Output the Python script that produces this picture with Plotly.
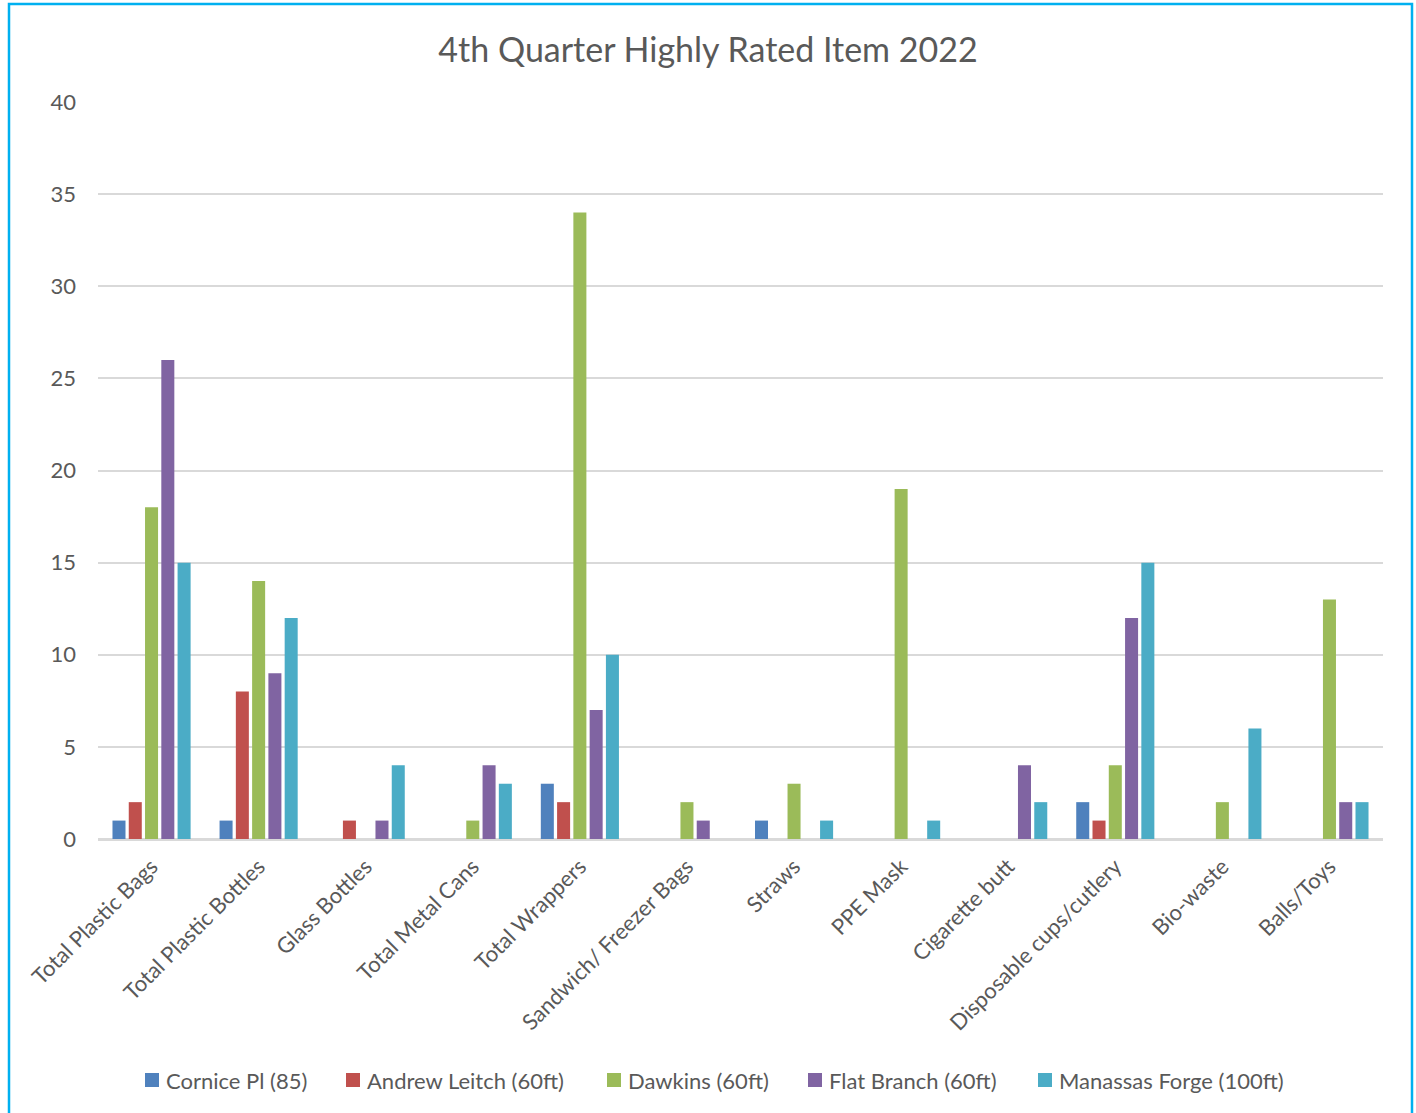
import plotly.graph_objects as go

categories = ["Total Plastic Bags", "Total Plastic Bottles", "Glass Bottles", "Total Metal Cans",
              "Total Wrappers", "Sandwich/ Freezer Bags", "Straws", "PPE Mask", "Cigarette butt",
              "Disposable cups/cutlery", "Bio-waste", "Balls/Toys"]

cornice = [1, 1, 0, 0, 3, 0, 1, 0, 0, 2, 0, 0]
andrew = [2, 8, 1, 0, 2, 0, 0, 0, 0, 1, 0, 0]
dawkins = [18, 14, 0, 1, 34, 2, 3, 19, 0, 4, 2, 13]
flat_branch = [26, 9, 1, 4, 7, 1, 0, 0, 4, 12, 0, 2]
manassas = [15, 12, 4, 3, 10, 0, 1, 1, 2, 15, 6, 2]

series_names = ["Cornice Pl (85)", "Andrew Leitch (60ft)", "Dawkins (60ft)",
                "Flat Branch (60ft)", "Manassas Forge (100ft)"]
series_values = [cornice, andrew, dawkins, flat_branch, manassas]
colors = ["#4F81BD", "#C0504D", "#9BBB59", "#8064A2", "#4BACC6"]

# legend layout (pixel positions of the symbol's left edge)
legend_symbol_x = [145, 346, 607, 808, 1038]

FONT = "Lato, Carlito, Calibri, sans-serif"
TXT = "#595959"

fig = go.Figure()
for name, vals, col in zip(series_names, series_values, colors):
    fig.add_trace(go.Bar(x=categories, y=vals, name=name, showlegend=False,
                         marker=dict(color=col, line=dict(width=0))))

W, H = 1416, 1113
L, R, T, B = 98, 33, 102, 274
pw, ph = W - L - R, H - T - B


def px_x(p):
    return (p - L) / pw


def px_y(p):
    return (H - B - p) / ph


shapes = [dict(type="rect", xref="paper", yref="paper",
               x0=px_x(9), x1=px_x(1412), y0=px_y(1125), y1=px_y(4),
               line=dict(color="#00B0F0", width=2.5), fillcolor="rgba(0,0,0,0)", layer="above")]
annotations = []
for sx, name, col in zip(legend_symbol_x, series_names, colors):
    shapes.append(dict(type="rect", xref="paper", yref="paper",
                       x0=px_x(sx), x1=px_x(sx + 14), y0=px_y(1087), y1=px_y(1073),
                       line=dict(width=0), fillcolor=col))
    annotations.append(dict(text=name, xref="paper", yref="paper", x=px_x(sx + 19), y=px_y(1080),
                            xanchor="left", yanchor="middle", showarrow=False,
                            font=dict(family=FONT, size=22, color=TXT)))

fig.update_layout(
    width=W, height=H,
    margin=dict(l=L, r=R, t=T, b=B, autoexpand=False),
    paper_bgcolor="white", plot_bgcolor="white",
    font=dict(family=FONT, color=TXT, size=22),
    title=dict(text="4th Quarter Highly Rated Item 2022", x=0.5, xref="container",
               y=1 - 50 / H, yanchor="middle", xanchor="center",
               font=dict(family=FONT, size=34, color=TXT)),
    barmode="group", bargap=0.24, bargroupgap=0.2,
    xaxis=dict(tickangle=-45, tickfont=dict(size=22, color=TXT), showgrid=False,
               showline=True, linecolor="#D9D9D9", linewidth=2, ticks="", ticklabelstandoff=4),
    yaxis=dict(range=[0, 40], dtick=5, gridcolor="#D9D9D9", gridwidth=1.5,
               zeroline=True, zerolinecolor="#D9D9D9", zerolinewidth=2,
               tickfont=dict(size=22, color=TXT), ticklabelstandoff=21, showline=False),
    showlegend=False,
    shapes=shapes,
    annotations=annotations,
)

fig.write_html("out.html", config={"displayModeBar": False},
               post_script="document.body.style.margin='0';document.body.style.padding='0';")
